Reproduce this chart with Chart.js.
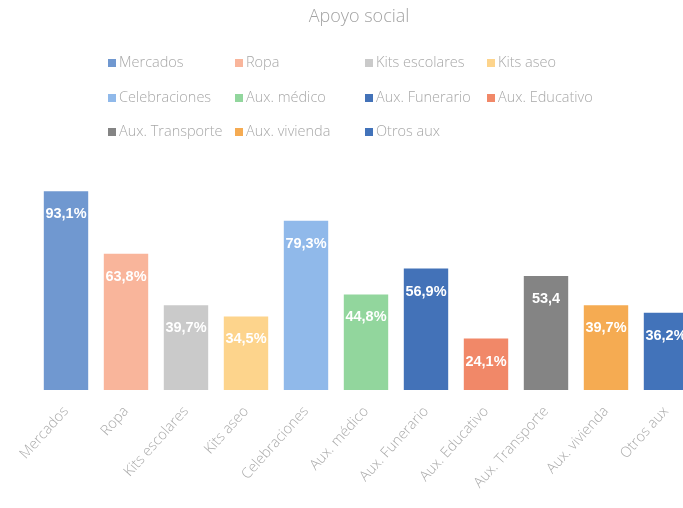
<!DOCTYPE html>
<html>
<head>
<meta charset="utf-8">
<script src="https://cdn.jsdelivr.net/npm/chart.js@4/dist/chart.umd.min.js"></script>
<style>
  html, body { margin: 0; padding: 0; background: #ffffff; overflow: hidden; }
  #wrap { width: 714px; height: 508px; }
</style>
</head>
<body>
<div id="wrap"><canvas id="c" width="714" height="508"></canvas></div>
<script>
const titleText = "Apoyo social";
const categories = ["Mercados", "Ropa", "Kits escolares", "Kits aseo", "Celebraciones", "Aux. médico", "Aux. Funerario", "Aux. Educativo", "Aux. Transporte", "Aux. vivienda", "Otros aux"];
const values = [93.1, 63.8, 39.7, 34.5, 79.3, 44.8, 56.9, 24.1, 53.4, 39.7, 36.2];
const valueLabels = ["93,1%", "63,8%", "39,7%", "34,5%", "79,3%", "44,8%", "56,9%", "24,1%", "53,4", "39,7%", "36,2%"];
const colors = ["#7098d0", "#f9b59b", "#cacaca", "#fdd48c", "#90b9ea", "#92d69d", "#4372b8", "#f18868", "#848484", "#f5ab52", "#4273ba"];

const gridLegend = {
  id: 'gridLegend',
  afterDraw(chart) {
    const ctx = chart.ctx;
    const colX = [108, 235, 365, 487];
    const rowY = [63, 98, 132];
    ctx.save();
    ctx.font = '300 14.5px "Open Sans", "Liberation Sans", sans-serif';
    ctx.textBaseline = 'middle';
    ctx.textAlign = 'left';
    categories.forEach((name, i) => {
      const cx = colX[i % 4];
      const cy = rowY[Math.floor(i / 4)];
      ctx.fillStyle = colors[i];
      ctx.fillRect(cx, cy - 4, 8, 8);
      ctx.fillStyle = '#a8a8a8';
      ctx.fillText(name, cx + 11, cy);
    });
    ctx.restore();
  }
};

const barLabels = {
  id: 'barLabels',
  afterDatasetsDraw(chart) {
    const ctx = chart.ctx;
    const meta = chart.getDatasetMeta(0);
    ctx.save();
    ctx.font = 'bold 14.5px "Liberation Sans", Arial, sans-serif';
    ctx.fillStyle = '#ffffff';
    ctx.textAlign = 'center';
    ctx.textBaseline = 'middle';
    meta.data.forEach((bar, i) => {
      ctx.fillText(valueLabels[i], bar.x, bar.y + 23);
    });
    ctx.restore();
  }
};

new Chart(document.getElementById('c'), {
  type: 'bar',
  data: {
    labels: categories,
    datasets: [{
      label: titleText,
      data: values,
      backgroundColor: colors,
      borderWidth: 0,
      barPercentage: 0.74,
      categoryPercentage: 1.0
    }]
  },
  options: {
    responsive: false,
    animation: false,
    devicePixelRatio: 1,
    layout: { padding: { left: 22, right: 18, top: 0, bottom: 0 } },
    plugins: {
      legend: { display: false },
      tooltip: { enabled: false },
      title: {
        display: true,
        text: titleText,
        color: '#a3a3a3',
        font: { family: '"Open Sans", "Liberation Sans", sans-serif', size: 18, weight: '300' },
        padding: { top: 6, bottom: 149 }
      }
    },
    scales: {
      x: {
        grid: { display: false },
        border: { display: false },
        ticks: {
          color: '#ababab',
          font: { family: '"Open Sans", "Liberation Sans", sans-serif', size: 14.5, weight: '300' },
          minRotation: 48,
          maxRotation: 48,
          autoSkip: false,
          padding: 5
        },
        afterFit(scale) { scale.height = 118; }
      },
      y: {
        display: true,
        min: 0,
        max: 100,
        grid: { display: false },
        border: { display: false },
        ticks: { display: false },
        afterFit(scale) { scale.width = 14; }
      }
    }
  },
  plugins: [gridLegend, barLabels]
});
</script>
</body>
</html>
